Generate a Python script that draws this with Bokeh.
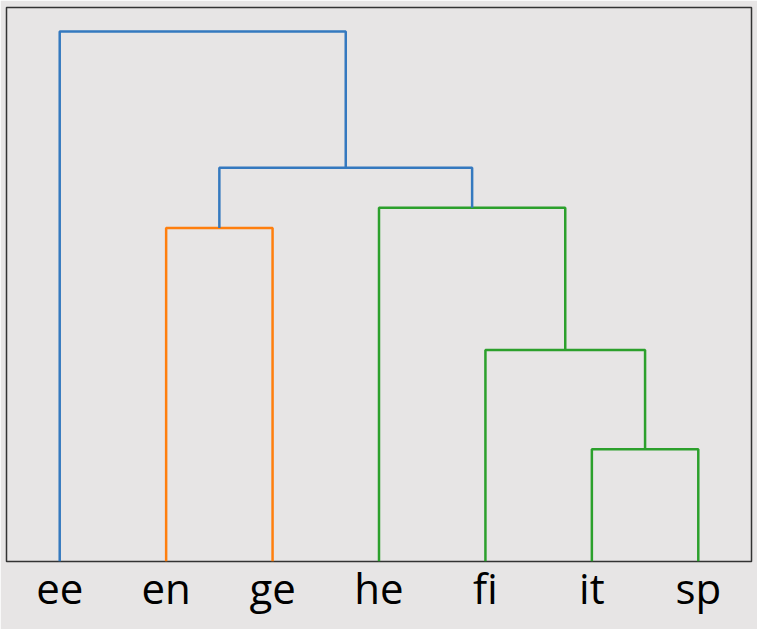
from bokeh.plotting import figure
from bokeh.models import FixedTicker, Range1d
from bokeh.embed import file_html
from bokeh.resources import INLINE

# Data
leaf_labels = ["ee", "en", "ge", "he", "fi", "it", "sp"]
# merges: (left cluster, right cluster, height, colour key)
merge_left = ["it", "fi", "en", "he", "en+ge", "ee"]
merge_right = ["sp", "it+sp", "ge", "fi+it+sp", "he+fi+it+sp", "en+ge+he+fi+it+sp"]
merge_height = [1.12, 2.11, 3.33, 3.53, 3.93, 5.29]
merge_color = ["green", "green", "orange", "green", "blue", "blue"]
palette = {"blue": "#3579bf", "orange": "#ff7f0e", "green": "#2ca02c"}

# leaf positions as in scipy dendrogram: 5, 15, 25, ...
pos = {lab: 5 + 10 * i for i, lab in enumerate(leaf_labels)}
hgt = {lab: 0.0 for lab in leaf_labels}

xs, ys, cols = [], [], []
for l, r, h, c in zip(merge_left, merge_right, merge_height, merge_color):
    xl, xr = pos[l], pos[r]
    xs.append([xl, xl, xr, xr])
    ys.append([hgt[l], h, h, hgt[r]])
    cols.append(palette[c])
    name = l + "+" + r
    pos[name] = (xl + xr) / 2
    hgt[name] = h

bg = "#e7e5e5"
p = figure(width=757, height=629, output_backend="svg", toolbar_location=None,
           x_range=Range1d(0, 70), y_range=Range1d(0, 5.53),
           min_border_left=6, min_border_right=6, min_border_top=7, min_border_bottom=68)
p.background_fill_color = bg
p.border_fill_color = bg
p.outline_line_color = "#333333"
p.outline_line_width = 1.5
p.grid.visible = False
p.yaxis.visible = False

p.multi_line(xs=xs, ys=ys, line_color=cols, line_width=2.5)

ax = p.xaxis[0]
ax.ticker = FixedTicker(ticks=[5 + 10 * i for i in range(len(leaf_labels))])
ax.major_label_overrides = {5 + 10 * i: lab for i, lab in enumerate(leaf_labels)}
ax.major_tick_line_color = None
ax.minor_tick_line_color = None
ax.axis_line_color = None
ax.major_label_text_font = "Open Sans"
ax.major_label_text_font_size = "42px"
ax.major_label_text_color = "black"
ax.major_label_standoff = -9

open("out.html", "w").write(file_html(p, INLINE))
